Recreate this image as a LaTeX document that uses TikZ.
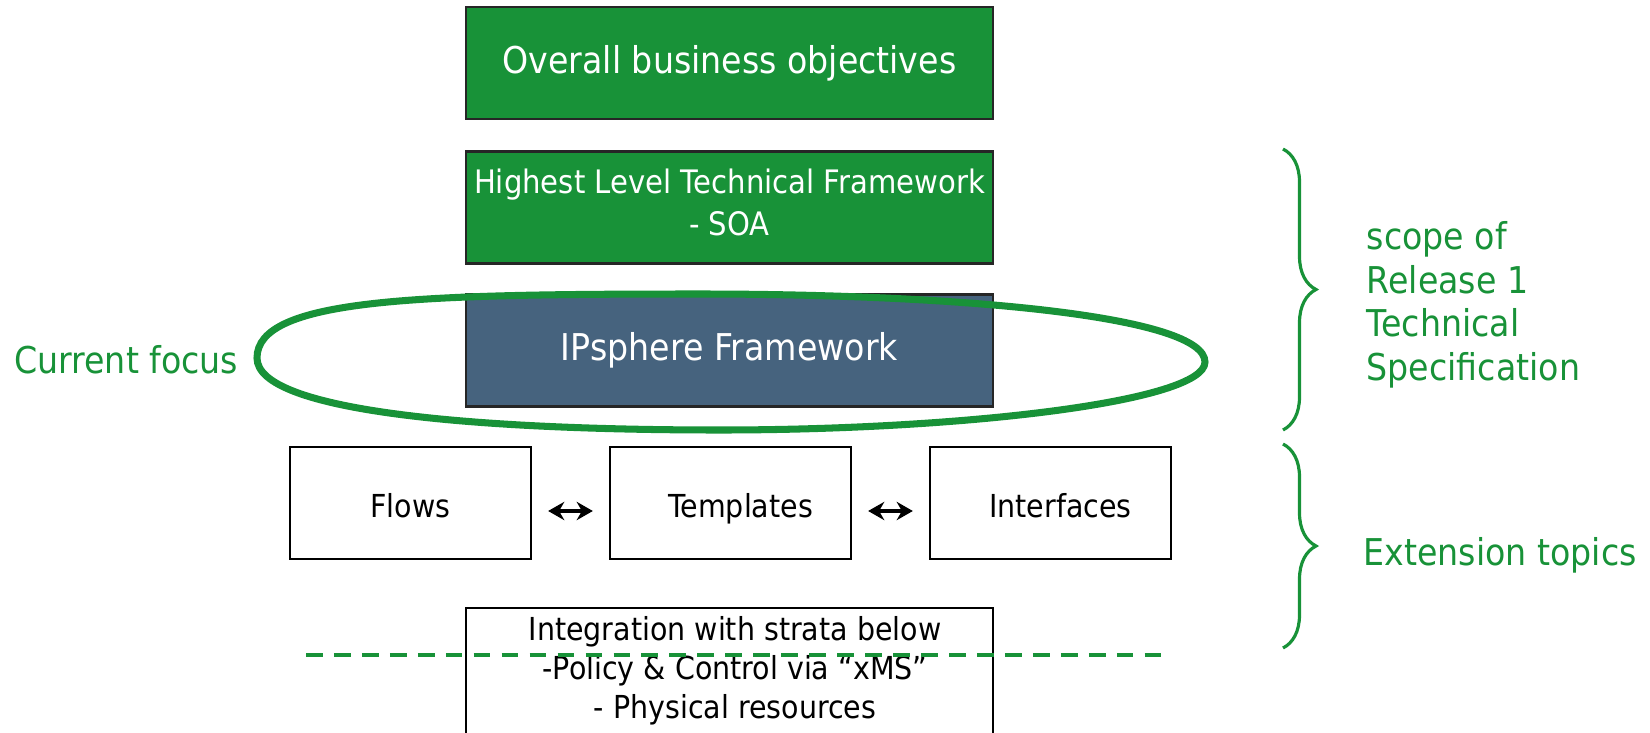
\documentclass[tikz,border=0pt]{standalone}
\usepackage{fontspec}
\setmainfont{DejaVu Sans}[FakeStretch=0.9]
\usetikzlibrary{arrows.meta, decorations.pathreplacing, positioning}
\tikzset{>={Stealth[length=4.6pt,width=5.2pt]}}
\definecolor{ipgreen}{RGB}{24,146,56}
\definecolor{ipblue}{RGB}{70,99,126}

\begin{document}
\begin{tikzpicture}[x=0.01cm,y=-0.01cm,
    layerbox/.style={draw=black!85, line width=0.6pt, minimum width=5.27cm, minimum height=1.12cm,
      inner sep=0pt, align=center, text=white},
    greenbox/.style={layerbox, fill=ipgreen},
    bluebox/.style={layerbox, fill=ipblue},
    topicbox/.style={draw=black, line width=0.6pt, minimum width=2.41cm, minimum height=1.12cm,
      inner sep=0pt, text height=0.8em, text depth=0pt, font=\fontsize{9}{11}\selectfont},
    bigtext/.style={font=\fontsize{10.5}{12}\selectfont},
    note/.style={text=ipgreen, inner sep=0pt, align=left, font=\fontsize{10.5}{12.4}\selectfont},
    curly/.style={draw=ipgreen, line width=0.9pt, decorate, decoration={brace, amplitude=0.33cm}}]
    \useasboundingbox (0,0) rectangle (1650,733);
    \clip (0,0) rectangle (1650,733);

    % the stack of layers
    \node[greenbox, bigtext] (objectives) at (729.5,63) {Overall business objectives};
    \node[greenbox, font=\fontsize{9.2}{11.7}\selectfont] (soa) at (729.5,207.5)
        {Highest Level Technical Framework\\- SOA\rule[-3pt]{0pt}{0pt}};
    \node[bluebox, bigtext] (ipsphere) at (729.5,350.5) {IPsphere Framework};

    \node[topicbox] (flows) at (410.5,503) {Flows};
    \node[topicbox] (templates) at (730.5,503) {\hspace*{0.2cm}Templates};
    \node[topicbox] (interfaces) at (1050.5,503) {\hspace*{0.2cm}Interfaces};
    \draw[<->, line width=1.2pt, shorten <=0.16cm, shorten >=0.16cm]
        ([yshift=-0.08cm]flows.east) -- ([yshift=-0.08cm]templates.west);
    \draw[<->, line width=1.2pt, shorten <=0.16cm, shorten >=0.16cm]
        ([yshift=-0.08cm]templates.east) -- ([yshift=-0.08cm]interfaces.west);

    \node[draw=black, line width=0.6pt, minimum width=5.27cm, minimum height=1.5cm, anchor=north]
        (strata) at (729.5,607) {};
    \node[inner sep=0pt, align=center, anchor=north, font=\fontsize{9}{11.1}\selectfont]
        (stratatext) at (735,616)
        {Integration with strata below\\-Policy \& Control via “xMS”\\- Physical resources};
    \coordinate (cut west) at (306,655);
    \coordinate (cut east) at (1163,655);
    \draw[ipgreen, line width=1.3pt, dash pattern=on 4.75pt off 3.2pt] (cut west) -- (cut east);

    % focus ring
    \draw[ipgreen, line width=2pt]
        (257,358) .. controls (257,298) and (420,294) .. (700,294)
        .. controls (960,294) and (1205,316) .. (1205,362)
        .. controls (1205,402) and (960,430) .. (720,430)
        .. controls (480,430) and (257,412) .. (257,358) -- cycle;
    \node[note, anchor=base east] (focus) at (239,373) {Current focus};

    % braces on the right
    \draw[curly] (1283,149) -- (1283,430);
    \draw[curly] (1283,444) -- (1283,648);
    \node[note, anchor=north west] (scope) at (1366,221)
        {scope of\\Release 1\\Technical\\Specification};
    \node[note, anchor=base west] (extension) at (1363,565) {Extension topics};
\end{tikzpicture}
\end{document}
